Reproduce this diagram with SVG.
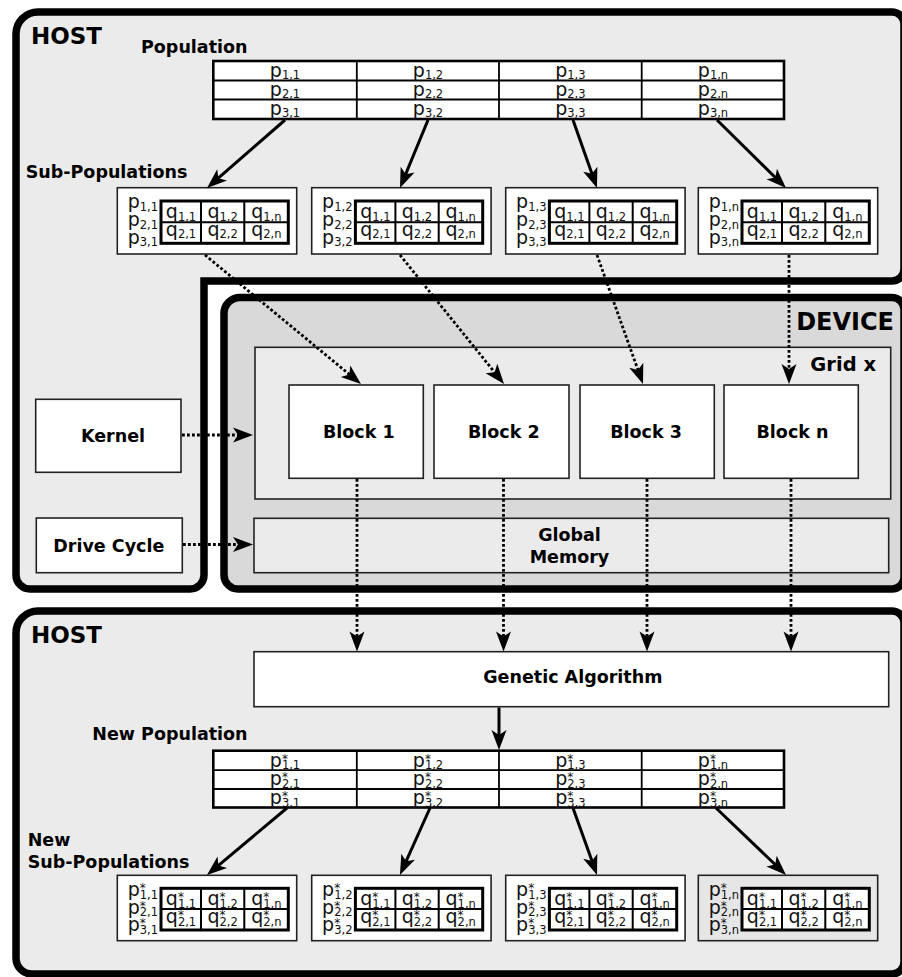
<svg xmlns="http://www.w3.org/2000/svg" width="902" height="977" viewBox="0 0 902 977">
  <defs>
    <style>
      .frame { stroke: #000; stroke-width: 7.5; stroke-linejoin: miter; }
      .host { fill: #ebebeb; }
      .dev { fill: #d9d9d9; }
      .box { fill: #fff; stroke: #222; stroke-width: 1.6; }
      .gbox { fill: #ebebeb; stroke: #222; stroke-width: 1.6; }
      .tbl { fill: #fff; stroke: #000; stroke-width: 2.6; }
      .grid { fill: none; stroke: #000; stroke-width: 1.8; }
      .qt { fill: #fff; stroke: #000; stroke-width: 3; }
      .qg { fill: none; stroke: #000; stroke-width: 2; }
      .ttl { font-family: "DejaVu Sans", "Liberation Sans", sans-serif; font-weight: bold; font-size: 23px; fill: #000; }
      .lbl { font-family: "DejaVu Sans", "Liberation Sans", sans-serif; font-weight: bold; font-size: 17.5px; fill: #000; }
      .mid { text-anchor: middle; }
      .c { font-family: "DejaVu Sans", "Liberation Sans", sans-serif; font-size: 19px; fill: #111; text-anchor: middle; }
      .pl { font-family: "DejaVu Sans", "Liberation Sans", sans-serif; font-size: 19px; fill: #111; }
      .s { font-size: 11.5px; }
      .st { font-size: 12px; }
      .solid { fill: none; stroke: #000; stroke-width: 3; }
      .dot { fill: none; stroke: #000; stroke-width: 2.8; stroke-dasharray: 2.8 2.2; }
    </style>
    <marker id="ah" markerUnits="userSpaceOnUse" orient="auto" overflow="visible" markerWidth="20" markerHeight="16">
      <path d="M5,0 L-15,-7.5 L-10,0 L-15,7.5 Z" fill="#000"/>
    </marker>
  </defs>

  <!-- frames: host (top), device, host (bottom) -->
  <g id="host-top">
    <path class="frame host" d="M16,34 A22,22 0 0 1 38,12 H892 A12,12 0 0 1 904,24 V269 A12,12 0 0 1 892,281 H204 V575 A14,14 0 0 1 190,589 H30 A14,14 0 0 1 16,575 Z"/>
    <text class="ttl" x="31" y="44">HOST</text>
    <text class="lbl" x="141" y="52.5">Population</text>
    <text class="lbl" x="25.7" y="178.3">Sub-Populations</text>
  </g>
  <g id="device">
    <path class="frame dev" d="M224,313.5 A16,16 0 0 1 240,297.5 H892 A12,12 0 0 1 904,309.5 V577 A12,12 0 0 1 892,589 H238 A14,14 0 0 1 224,575 Z"/>
    <text class="ttl" x="894" y="330" text-anchor="end" style="font-size:24px">DEVICE</text>
  </g>
  <g id="host-bottom">
    <path class="frame host" d="M16,633 A22,22 0 0 1 38,611 H892 A12,12 0 0 1 904,623 V962 A12,12 0 0 1 892,974 H32 A16,16 0 0 1 16,958 Z"/>
    <text class="ttl" x="31" y="643.3">HOST</text>
    <text class="lbl" x="92.3" y="740">New Population</text>
    <text class="lbl" x="27.7" y="845.7">New</text>
    <text class="lbl" x="27.7" y="867.7">Sub-Populations</text>
  </g>

  <!-- population table -->
  <g id="population">
    <rect class="tbl" x="213.3" y="61" width="570.7" height="58"/>
    <path class="grid" d="M213.3,80.5 H784 M213.3,99.5 H784 M356.8,61 V119 M499,61 V119 M641.7,61 V119"/>
    <text class="c" x="285" y="76.5">p<tspan class="s" dy="2.5">1,1</tspan></text>
    <text class="c" x="285" y="95.5">p<tspan class="s" dy="2.5">2,1</tspan></text>
    <text class="c" x="285" y="114.5">p<tspan class="s" dy="2.5">3,1</tspan></text>
    <text class="c" x="428" y="76.5">p<tspan class="s" dy="2.5">1,2</tspan></text>
    <text class="c" x="428" y="95.5">p<tspan class="s" dy="2.5">2,2</tspan></text>
    <text class="c" x="428" y="114.5">p<tspan class="s" dy="2.5">3,2</tspan></text>
    <text class="c" x="570.4" y="76.5">p<tspan class="s" dy="2.5">1,3</tspan></text>
    <text class="c" x="570.4" y="95.5">p<tspan class="s" dy="2.5">2,3</tspan></text>
    <text class="c" x="570.4" y="114.5">p<tspan class="s" dy="2.5">3,3</tspan></text>
    <text class="c" x="713" y="76.5">p<tspan class="s" dy="2.5">1,n</tspan></text>
    <text class="c" x="713" y="95.5">p<tspan class="s" dy="2.5">2,n</tspan></text>
    <text class="c" x="713" y="114.5">p<tspan class="s" dy="2.5">3,n</tspan></text>
  </g>

  <!-- sub-populations -->
  <g id="sub-1" transform="translate(117.3,187.7)">
    <rect class="box" width="179.4" height="66.3"/>
    <text class="pl" x="10.4" y="20.8">p<tspan class="s" dy="2.5">1,1</tspan></text>
    <text class="pl" x="10.4" y="38.5">p<tspan class="s" dy="2.5">2,1</tspan></text>
    <text class="pl" x="10.4" y="56.3">p<tspan class="s" dy="2.5">3,1</tspan></text>
    <rect class="qt" x="43.7" y="13.3" width="127.3" height="42.3"/>
    <path class="qg" d="M43.7,34.6 H171 M83.7,13.3 V55.6 M127,13.3 V55.6"/>
    <text class="c" x="63.7" y="30.6">q<tspan class="s" dy="2.5">1,1</tspan></text>
    <text class="c" x="105.3" y="30.6">q<tspan class="s" dy="2.5">1,2</tspan></text>
    <text class="c" x="149" y="30.6">q<tspan class="s" dy="2.5">1,n</tspan></text>
    <text class="c" x="63.7" y="48.3">q<tspan class="s" dy="2.5">2,1</tspan></text>
    <text class="c" x="105.3" y="48.3">q<tspan class="s" dy="2.5">2,2</tspan></text>
    <text class="c" x="149" y="48.3">q<tspan class="s" dy="2.5">2,n</tspan></text>
  </g>
  <g id="sub-2" transform="translate(311.7,187.7)">
    <rect class="box" width="179.4" height="66.3"/>
    <text class="pl" x="10.4" y="20.8">p<tspan class="s" dy="2.5">1,2</tspan></text>
    <text class="pl" x="10.4" y="38.5">p<tspan class="s" dy="2.5">2,2</tspan></text>
    <text class="pl" x="10.4" y="56.3">p<tspan class="s" dy="2.5">3,2</tspan></text>
    <rect class="qt" x="43.7" y="13.3" width="127.3" height="42.3"/>
    <path class="qg" d="M43.7,34.6 H171 M83.7,13.3 V55.6 M127,13.3 V55.6"/>
    <text class="c" x="63.7" y="30.6">q<tspan class="s" dy="2.5">1,1</tspan></text>
    <text class="c" x="105.3" y="30.6">q<tspan class="s" dy="2.5">1,2</tspan></text>
    <text class="c" x="149" y="30.6">q<tspan class="s" dy="2.5">1,n</tspan></text>
    <text class="c" x="63.7" y="48.3">q<tspan class="s" dy="2.5">2,1</tspan></text>
    <text class="c" x="105.3" y="48.3">q<tspan class="s" dy="2.5">2,2</tspan></text>
    <text class="c" x="149" y="48.3">q<tspan class="s" dy="2.5">2,n</tspan></text>
  </g>
  <g id="sub-3" transform="translate(505.7,187.7)">
    <rect class="box" width="179.4" height="66.3"/>
    <text class="pl" x="10.4" y="20.8">p<tspan class="s" dy="2.5">1,3</tspan></text>
    <text class="pl" x="10.4" y="38.5">p<tspan class="s" dy="2.5">2,3</tspan></text>
    <text class="pl" x="10.4" y="56.3">p<tspan class="s" dy="2.5">3,3</tspan></text>
    <rect class="qt" x="43.7" y="13.3" width="127.3" height="42.3"/>
    <path class="qg" d="M43.7,34.6 H171 M83.7,13.3 V55.6 M127,13.3 V55.6"/>
    <text class="c" x="63.7" y="30.6">q<tspan class="s" dy="2.5">1,1</tspan></text>
    <text class="c" x="105.3" y="30.6">q<tspan class="s" dy="2.5">1,2</tspan></text>
    <text class="c" x="149" y="30.6">q<tspan class="s" dy="2.5">1,n</tspan></text>
    <text class="c" x="63.7" y="48.3">q<tspan class="s" dy="2.5">2,1</tspan></text>
    <text class="c" x="105.3" y="48.3">q<tspan class="s" dy="2.5">2,2</tspan></text>
    <text class="c" x="149" y="48.3">q<tspan class="s" dy="2.5">2,n</tspan></text>
  </g>
  <g id="sub-n" transform="translate(698.3,187.7)">
    <rect class="box" width="179.4" height="66.3"/>
    <text class="pl" x="10.4" y="20.8">p<tspan class="s" dy="2.5">1,n</tspan></text>
    <text class="pl" x="10.4" y="38.5">p<tspan class="s" dy="2.5">2,n</tspan></text>
    <text class="pl" x="10.4" y="56.3">p<tspan class="s" dy="2.5">3,n</tspan></text>
    <rect class="qt" x="43.7" y="13.3" width="127.3" height="42.3"/>
    <path class="qg" d="M43.7,34.6 H171 M83.7,13.3 V55.6 M127,13.3 V55.6"/>
    <text class="c" x="63.7" y="30.6">q<tspan class="s" dy="2.5">1,1</tspan></text>
    <text class="c" x="105.3" y="30.6">q<tspan class="s" dy="2.5">1,2</tspan></text>
    <text class="c" x="149" y="30.6">q<tspan class="s" dy="2.5">1,n</tspan></text>
    <text class="c" x="63.7" y="48.3">q<tspan class="s" dy="2.5">2,1</tspan></text>
    <text class="c" x="105.3" y="48.3">q<tspan class="s" dy="2.5">2,2</tspan></text>
    <text class="c" x="149" y="48.3">q<tspan class="s" dy="2.5">2,n</tspan></text>
  </g>

  <!-- host-side inputs -->
  <g id="kernel">
    <rect class="box" x="35.7" y="399.3" width="145.3" height="73"/>
    <text class="lbl mid" x="113" y="442">Kernel</text>
  </g>
  <g id="drive-cycle">
    <rect class="box" x="36.3" y="518" width="146" height="54.7"/>
    <text class="lbl mid" x="108.8" y="551.7">Drive Cycle</text>
  </g>

  <!-- device contents -->
  <g id="grid">
    <rect class="gbox" x="255" y="347.3" width="635.7" height="151.7"/>
    <text class="lbl" x="876" y="370.5" text-anchor="end" style="font-size:19.5px">Grid x</text>
  </g>
  <g id="block-1">
    <rect class="box" x="289" y="385" width="134.3" height="93.3"/>
    <text class="lbl mid" x="358.8" y="438.3">Block 1</text>
  </g>
  <g id="block-2">
    <rect class="box" x="434" y="385" width="135" height="93.3"/>
    <text class="lbl mid" x="503.8" y="438.3">Block 2</text>
  </g>
  <g id="block-3">
    <rect class="box" x="580" y="385" width="134.3" height="93.3"/>
    <text class="lbl mid" x="646" y="438.3">Block 3</text>
  </g>
  <g id="block-n">
    <rect class="box" x="724" y="385" width="134.3" height="93.3"/>
    <text class="lbl mid" x="792.5" y="438.3">Block n</text>
  </g>
  <g id="global-memory">
    <rect class="gbox" x="254" y="518.3" width="634.7" height="54.4"/>
    <text class="lbl mid" x="569.5" y="541">Global</text>
    <text class="lbl mid" x="569.5" y="562.7">Memory</text>
  </g>

  <!-- host-side result -->
  <g id="genetic-algorithm">
    <rect class="box" x="254" y="651.7" width="634.7" height="55"/>
    <text class="lbl mid" x="572.8" y="683.3">Genetic Algorithm</text>
  </g>

  <g id="new-population">
    <rect class="tbl" x="213.3" y="750.7" width="570.7" height="56.8"/>
    <path class="grid" d="M213.3,770.2 H784 M213.3,789 H784 M356.8,750.7 V807.5 M499,750.7 V807.5 M641.7,750.7 V807.5"/>
    <text class="c" x="285" y="766.5">p<tspan class="st" dy="-4">*</tspan><tspan class="s" dx="-6" dy="6.5">1,1</tspan></text>
    <text class="c" x="285" y="785.3">p<tspan class="st" dy="-4">*</tspan><tspan class="s" dx="-6" dy="6.5">2,1</tspan></text>
    <text class="c" x="285" y="804">p<tspan class="st" dy="-4">*</tspan><tspan class="s" dx="-6" dy="6.5">3,1</tspan></text>
    <text class="c" x="428" y="766.5">p<tspan class="st" dy="-4">*</tspan><tspan class="s" dx="-6" dy="6.5">1,2</tspan></text>
    <text class="c" x="428" y="785.3">p<tspan class="st" dy="-4">*</tspan><tspan class="s" dx="-6" dy="6.5">2,2</tspan></text>
    <text class="c" x="428" y="804">p<tspan class="st" dy="-4">*</tspan><tspan class="s" dx="-6" dy="6.5">3,2</tspan></text>
    <text class="c" x="570.4" y="766.5">p<tspan class="st" dy="-4">*</tspan><tspan class="s" dx="-6" dy="6.5">1,3</tspan></text>
    <text class="c" x="570.4" y="785.3">p<tspan class="st" dy="-4">*</tspan><tspan class="s" dx="-6" dy="6.5">2,3</tspan></text>
    <text class="c" x="570.4" y="804">p<tspan class="st" dy="-4">*</tspan><tspan class="s" dx="-6" dy="6.5">3,3</tspan></text>
    <text class="c" x="713" y="766.5">p<tspan class="st" dy="-4">*</tspan><tspan class="s" dx="-6" dy="6.5">1,n</tspan></text>
    <text class="c" x="713" y="785.3">p<tspan class="st" dy="-4">*</tspan><tspan class="s" dx="-6" dy="6.5">2,n</tspan></text>
    <text class="c" x="713" y="804">p<tspan class="st" dy="-4">*</tspan><tspan class="s" dx="-6" dy="6.5">3,n</tspan></text>
  </g>

  <g id="new-sub-1" transform="translate(117.3,875.3)">
    <rect class="box" width="179.4" height="65.4"/>
    <text class="pl" x="10.4" y="20.8">p<tspan class="st" dy="-4">*</tspan><tspan class="s" dx="-6" dy="6.5">1,1</tspan></text>
    <text class="pl" x="10.4" y="38.3">p<tspan class="st" dy="-4">*</tspan><tspan class="s" dx="-6" dy="6.5">2,1</tspan></text>
    <text class="pl" x="10.4" y="55.8">p<tspan class="st" dy="-4">*</tspan><tspan class="s" dx="-6" dy="6.5">3,1</tspan></text>
    <rect class="qt" x="43.7" y="13" width="127.3" height="41.7"/>
    <path class="qg" d="M43.7,33.7 H171 M83.7,13 V54.7 M127,13 V54.7"/>
    <text class="c" x="63.7" y="30.2">q<tspan class="st" dy="-4">*</tspan><tspan class="s" dx="-6" dy="6.5">1,1</tspan></text>
    <text class="c" x="105.3" y="30.2">q<tspan class="st" dy="-4">*</tspan><tspan class="s" dx="-6" dy="6.5">1,2</tspan></text>
    <text class="c" x="149" y="30.2">q<tspan class="st" dy="-4">*</tspan><tspan class="s" dx="-6" dy="6.5">1,n</tspan></text>
    <text class="c" x="63.7" y="47.8">q<tspan class="st" dy="-4">*</tspan><tspan class="s" dx="-6" dy="6.5">2,1</tspan></text>
    <text class="c" x="105.3" y="47.8">q<tspan class="st" dy="-4">*</tspan><tspan class="s" dx="-6" dy="6.5">2,2</tspan></text>
    <text class="c" x="149" y="47.8">q<tspan class="st" dy="-4">*</tspan><tspan class="s" dx="-6" dy="6.5">2,n</tspan></text>
  </g>
  <g id="new-sub-2" transform="translate(311.7,875.3)">
    <rect class="box" width="179.4" height="65.4"/>
    <text class="pl" x="10.4" y="20.8">p<tspan class="st" dy="-4">*</tspan><tspan class="s" dx="-6" dy="6.5">1,2</tspan></text>
    <text class="pl" x="10.4" y="38.3">p<tspan class="st" dy="-4">*</tspan><tspan class="s" dx="-6" dy="6.5">2,2</tspan></text>
    <text class="pl" x="10.4" y="55.8">p<tspan class="st" dy="-4">*</tspan><tspan class="s" dx="-6" dy="6.5">3,2</tspan></text>
    <rect class="qt" x="43.7" y="13" width="127.3" height="41.7"/>
    <path class="qg" d="M43.7,33.7 H171 M83.7,13 V54.7 M127,13 V54.7"/>
    <text class="c" x="63.7" y="30.2">q<tspan class="st" dy="-4">*</tspan><tspan class="s" dx="-6" dy="6.5">1,1</tspan></text>
    <text class="c" x="105.3" y="30.2">q<tspan class="st" dy="-4">*</tspan><tspan class="s" dx="-6" dy="6.5">1,2</tspan></text>
    <text class="c" x="149" y="30.2">q<tspan class="st" dy="-4">*</tspan><tspan class="s" dx="-6" dy="6.5">1,n</tspan></text>
    <text class="c" x="63.7" y="47.8">q<tspan class="st" dy="-4">*</tspan><tspan class="s" dx="-6" dy="6.5">2,1</tspan></text>
    <text class="c" x="105.3" y="47.8">q<tspan class="st" dy="-4">*</tspan><tspan class="s" dx="-6" dy="6.5">2,2</tspan></text>
    <text class="c" x="149" y="47.8">q<tspan class="st" dy="-4">*</tspan><tspan class="s" dx="-6" dy="6.5">2,n</tspan></text>
  </g>
  <g id="new-sub-3" transform="translate(505.7,875.3)">
    <rect class="box" width="179.4" height="65.4"/>
    <text class="pl" x="10.4" y="20.8">p<tspan class="st" dy="-4">*</tspan><tspan class="s" dx="-6" dy="6.5">1,3</tspan></text>
    <text class="pl" x="10.4" y="38.3">p<tspan class="st" dy="-4">*</tspan><tspan class="s" dx="-6" dy="6.5">2,3</tspan></text>
    <text class="pl" x="10.4" y="55.8">p<tspan class="st" dy="-4">*</tspan><tspan class="s" dx="-6" dy="6.5">3,3</tspan></text>
    <rect class="qt" x="43.7" y="13" width="127.3" height="41.7"/>
    <path class="qg" d="M43.7,33.7 H171 M83.7,13 V54.7 M127,13 V54.7"/>
    <text class="c" x="63.7" y="30.2">q<tspan class="st" dy="-4">*</tspan><tspan class="s" dx="-6" dy="6.5">1,1</tspan></text>
    <text class="c" x="105.3" y="30.2">q<tspan class="st" dy="-4">*</tspan><tspan class="s" dx="-6" dy="6.5">1,2</tspan></text>
    <text class="c" x="149" y="30.2">q<tspan class="st" dy="-4">*</tspan><tspan class="s" dx="-6" dy="6.5">1,n</tspan></text>
    <text class="c" x="63.7" y="47.8">q<tspan class="st" dy="-4">*</tspan><tspan class="s" dx="-6" dy="6.5">2,1</tspan></text>
    <text class="c" x="105.3" y="47.8">q<tspan class="st" dy="-4">*</tspan><tspan class="s" dx="-6" dy="6.5">2,2</tspan></text>
    <text class="c" x="149" y="47.8">q<tspan class="st" dy="-4">*</tspan><tspan class="s" dx="-6" dy="6.5">2,n</tspan></text>
  </g>
  <g id="new-sub-n" transform="translate(698.3,875.3)">
    <rect class="box" width="179.4" height="65.4" style="fill:#e6e6e6"/>
    <text class="pl" x="10.4" y="20.8">p<tspan class="st" dy="-4">*</tspan><tspan class="s" dx="-6" dy="6.5">1,n</tspan></text>
    <text class="pl" x="10.4" y="38.3">p<tspan class="st" dy="-4">*</tspan><tspan class="s" dx="-6" dy="6.5">2,n</tspan></text>
    <text class="pl" x="10.4" y="55.8">p<tspan class="st" dy="-4">*</tspan><tspan class="s" dx="-6" dy="6.5">3,n</tspan></text>
    <rect class="qt" x="43.7" y="13" width="127.3" height="41.7"/>
    <path class="qg" d="M43.7,33.7 H171 M83.7,13 V54.7 M127,13 V54.7"/>
    <text class="c" x="63.7" y="30.2">q<tspan class="st" dy="-4">*</tspan><tspan class="s" dx="-6" dy="6.5">1,1</tspan></text>
    <text class="c" x="105.3" y="30.2">q<tspan class="st" dy="-4">*</tspan><tspan class="s" dx="-6" dy="6.5">1,2</tspan></text>
    <text class="c" x="149" y="30.2">q<tspan class="st" dy="-4">*</tspan><tspan class="s" dx="-6" dy="6.5">1,n</tspan></text>
    <text class="c" x="63.7" y="47.8">q<tspan class="st" dy="-4">*</tspan><tspan class="s" dx="-6" dy="6.5">2,1</tspan></text>
    <text class="c" x="105.3" y="47.8">q<tspan class="st" dy="-4">*</tspan><tspan class="s" dx="-6" dy="6.5">2,2</tspan></text>
    <text class="c" x="149" y="47.8">q<tspan class="st" dy="-4">*</tspan><tspan class="s" dx="-6" dy="6.5">2,n</tspan></text>
  </g>

  <!-- connectors -->
  <g id="connectors">
    <!-- population split into sub-populations -->
    <path class="solid" marker-end="url(#ah)" d="M285,120 L210.8,184.7"/>
    <path class="solid" marker-end="url(#ah)" d="M428,120 L401.9,183.4"/>
    <path class="solid" marker-end="url(#ah)" d="M573,120 L595.3,183.3"/>
    <path class="solid" marker-end="url(#ah)" d="M717,120 L782.4,184.5"/>
    <!-- sub-populations to blocks -->
    <path class="dot" marker-end="url(#ah)" d="M205,255 L357.1,380.8"/>
    <path class="dot" marker-end="url(#ah)" d="M400,255 L500.9,380.1"/>
    <path class="dot" marker-end="url(#ah)" d="M597,255 L641.3,379.3"/>
    <path class="dot" marker-end="url(#ah)" d="M789,255 L789,379"/>
    <!-- kernel and drive cycle into the device -->
    <path class="dot" marker-end="url(#ah)" d="M182,435 L248,435"/>
    <path class="dot" marker-end="url(#ah)" d="M183,544.5 L248,544.5"/>
    <!-- blocks to genetic algorithm -->
    <path class="dot" marker-end="url(#ah)" d="M357,479 L357,646.5"/>
    <path class="dot" marker-end="url(#ah)" d="M503.5,479 L503.5,646.5"/>
    <path class="dot" marker-end="url(#ah)" d="M647,479 L647,646.5"/>
    <path class="dot" marker-end="url(#ah)" d="M791,479 L791,646.5"/>
    <!-- genetic algorithm to new population -->
    <path class="solid" marker-end="url(#ah)" d="M499,707.5 L499,745"/>
    <!-- new population split -->
    <path class="solid" marker-end="url(#ah)" d="M287,808 L210.8,871.8"/>
    <path class="solid" marker-end="url(#ah)" d="M430,808 L402,870.4"/>
    <path class="solid" marker-end="url(#ah)" d="M573,808 L595.3,870.3"/>
    <path class="solid" marker-end="url(#ah)" d="M716,808 L782.4,871.5"/>
  </g>
</svg>
